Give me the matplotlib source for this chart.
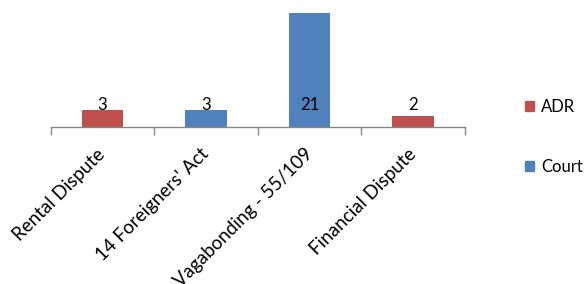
import matplotlib.pyplot as plt
import numpy as np

plt.rcParams['font.family'] = ['Lato', 'DejaVu Sans']

# Data
categories = ['Rental Dispute', "14 Foreigners' Act", 'Vagabonding - 55/109', 'Financial Dispute']
values = [3, 3, 21, 2]
series = ['ADR', 'Court', 'Court', 'ADR']
series_names = ['ADR', 'Court']
series_colors = {'ADR': '#C0504D', 'Court': '#4F81BD'}

fig = plt.figure(figsize=(5.87, 2.84), dpi=100)
ax = fig.add_axes([50.7 / 587, (284 - 126.5) / 284, (465 - 50.7) / 587, (126.5 - 12.7) / 284])

x = np.arange(len(categories))
colors = [series_colors[s] for s in series]
ax.bar(x, values, width=0.4, color=colors, zorder=2)

# value labels (all drawn at the same height, like the original)
for xi, v in zip(x, values):
    ax.text(xi, 3.95, str(v), ha='center', va='center', fontsize=12, color='black')

ax.set_xlim(-0.5, len(categories) - 0.5)
ax.set_ylim(0, 21)
ax.set_yticks([])
for s in ['top', 'right', 'left']:
    ax.spines[s].set_visible(False)
ax.spines['bottom'].set_color('#868686')
ax.spines['bottom'].set_linewidth(1)

# tick marks at category boundaries, labels at category centres
ax.set_xticks(np.arange(-0.5, len(categories)), minor=True)
ax.tick_params(axis='x', which='minor', length=6, color='#868686', width=1)
ax.set_xticks(x)
ax.set_xticklabels(categories, rotation=45, ha='right', va='center',
                   rotation_mode='anchor', fontsize=13.5)
ax.tick_params(axis='x', which='major', length=0, pad=18)

handles = [plt.Rectangle((0, 0), 1, 1, color=series_colors[n]) for n in series_names]
fig.legend(handles, series_names, loc='center left', bbox_to_anchor=(510 / 587, 1 - 137 / 284),
           frameon=False, fontsize=12, handlelength=0.55, handleheight=0.55,
           handletextpad=0.4, labelspacing=2.6)

fig.savefig('out.png', dpi=100)
